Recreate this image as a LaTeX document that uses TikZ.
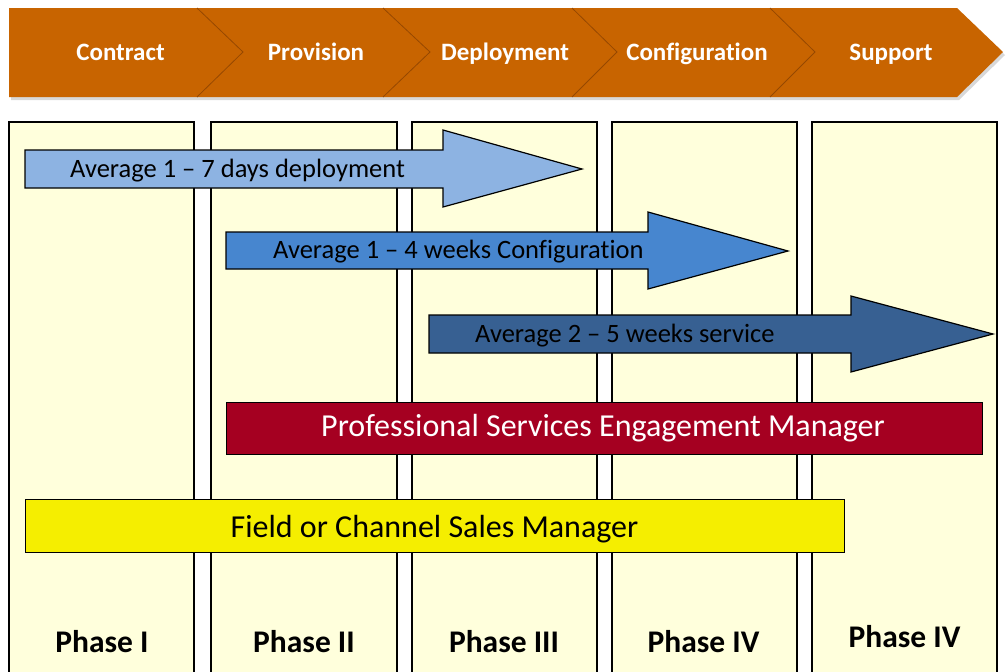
\documentclass[tikz,border=0pt]{standalone}
\usepackage{fontspec}
\setmainfont[Ligatures=NoCommon]{Carlito}
\begin{document}
\begin{tikzpicture}[x=1pt,y=-1pt,
  colbox/.style={draw=black,line width=1.4pt,fill=colfill},
  arrowshape/.style={draw=black,line width=1.2pt},
  bartext/.style={font=\fontsize{32}{34}\selectfont,inner sep=0pt,anchor=base},
  arrtext/.style={font=\fontsize{26.5}{28}\selectfont,inner sep=0pt,anchor=base west,text=black},
  phasetext/.style={font=\fontsize{31.5}{34}\selectfont\bfseries,inner sep=0pt,anchor=base},
  stagetext/.style={font=\fontsize{25}{28}\selectfont\bfseries,inner sep=0pt,text=white,anchor=base},
  divider/.style={draw=bannerdark,line width=0.8pt}
]
\definecolor{colfill}{RGB}{255,255,220}
\definecolor{banner}{RGB}{200,100,0}
\definecolor{bannerdark}{RGB}{150,72,0}
\definecolor{arrA}{RGB}{141,179,226}
\definecolor{arrB}{RGB}{71,134,207}
\definecolor{arrC}{RGB}{55,96,146}
\definecolor{redbar}{RGB}{165,0,33}
\definecolor{yelbar}{RGB}{245,238,0}
\useasboundingbox (0,0) rectangle (1007,672);
\fill[white] (0,0) rectangle (1007,672);
% banner shadow and banner
\fill[black!25,opacity=0.6] (11,11) -- (959,11) -- (1005,55) -- (959,100) -- (11,100) -- cycle;
\fill[banner] (9,8) -- (957,8) -- (1003,52) -- (957,97) -- (9,97) -- cycle;
\foreach \bx/\px in {197/243,383/430,572/617,770/815}{
  \draw[divider] (\bx,8) -- (\px,52) -- (\bx,97);
}
\node[stagetext] (s1) at (120.5,60) {Contract};
\node[stagetext] (s2) at (316,60) {Provision};
\node[stagetext] (s3) at (505,60) {Deployment};
\node[stagetext] (s4) at (697,60) {Configuration};
\node[stagetext] (s5) at (891,60) {Support};
% columns
\draw[colbox] (9,122) rectangle (194,690);
\draw[colbox] (211,122) rectangle (397,690);
\draw[colbox] (412,122) rectangle (597,690);
\draw[colbox] (612,122) rectangle (797,690);
\draw[colbox] (812,122) rectangle (997,690);
% arrows
\draw[arrowshape,fill=arrA] (25,150) -- (443,150) -- (443,130) -- (582,169) -- (443,207) -- (443,188) -- (25,188) -- cycle;
\node[arrtext] (a1) at (70,177) {Average 1 – 7 days deployment};
\draw[arrowshape,fill=arrB] (226,232) -- (648,232) -- (648,212) -- (788,251) -- (648,289) -- (648,269) -- (226,269) -- cycle;
\node[arrtext] (a2) at (273,258) {Average 1 – 4 weeks Configuration};
\draw[arrowshape,fill=arrC] (429,315) -- (851,315) -- (851,296) -- (993,334) -- (851,372) -- (851,353) -- (429,353) -- cycle;
\node[arrtext] (a3) at (475,342) {Average 2 – 5 weeks service};
% bars
\node[draw=black,line width=1.2pt,fill=redbar,minimum width=756pt,minimum height=52pt,anchor=north west,inner sep=0pt] (rb) at (226,402) {};
\node[bartext,text=white] (rbt) at (603,436) {Professional Services Engagement Manager};
\node[draw=black,line width=1.2pt,fill=yelbar,minimum width=819pt,minimum height=53pt,anchor=north west,inner sep=0pt] (yb) at (25,499) {};
\node[bartext,text=black] (ybt) at (434.5,537) {Field or Channel Sales Manager};
% phase labels
\node[phasetext] (p1) at (102,652) {Phase I};
\node[phasetext] (p2) at (304,652) {Phase II};
\node[phasetext] (p3) at (504,652) {Phase III};
\node[phasetext] (p4) at (703.5,652) {Phase IV};
\node[phasetext] (p5) at (904.5,647) {Phase IV};
\end{tikzpicture}
\end{document}
